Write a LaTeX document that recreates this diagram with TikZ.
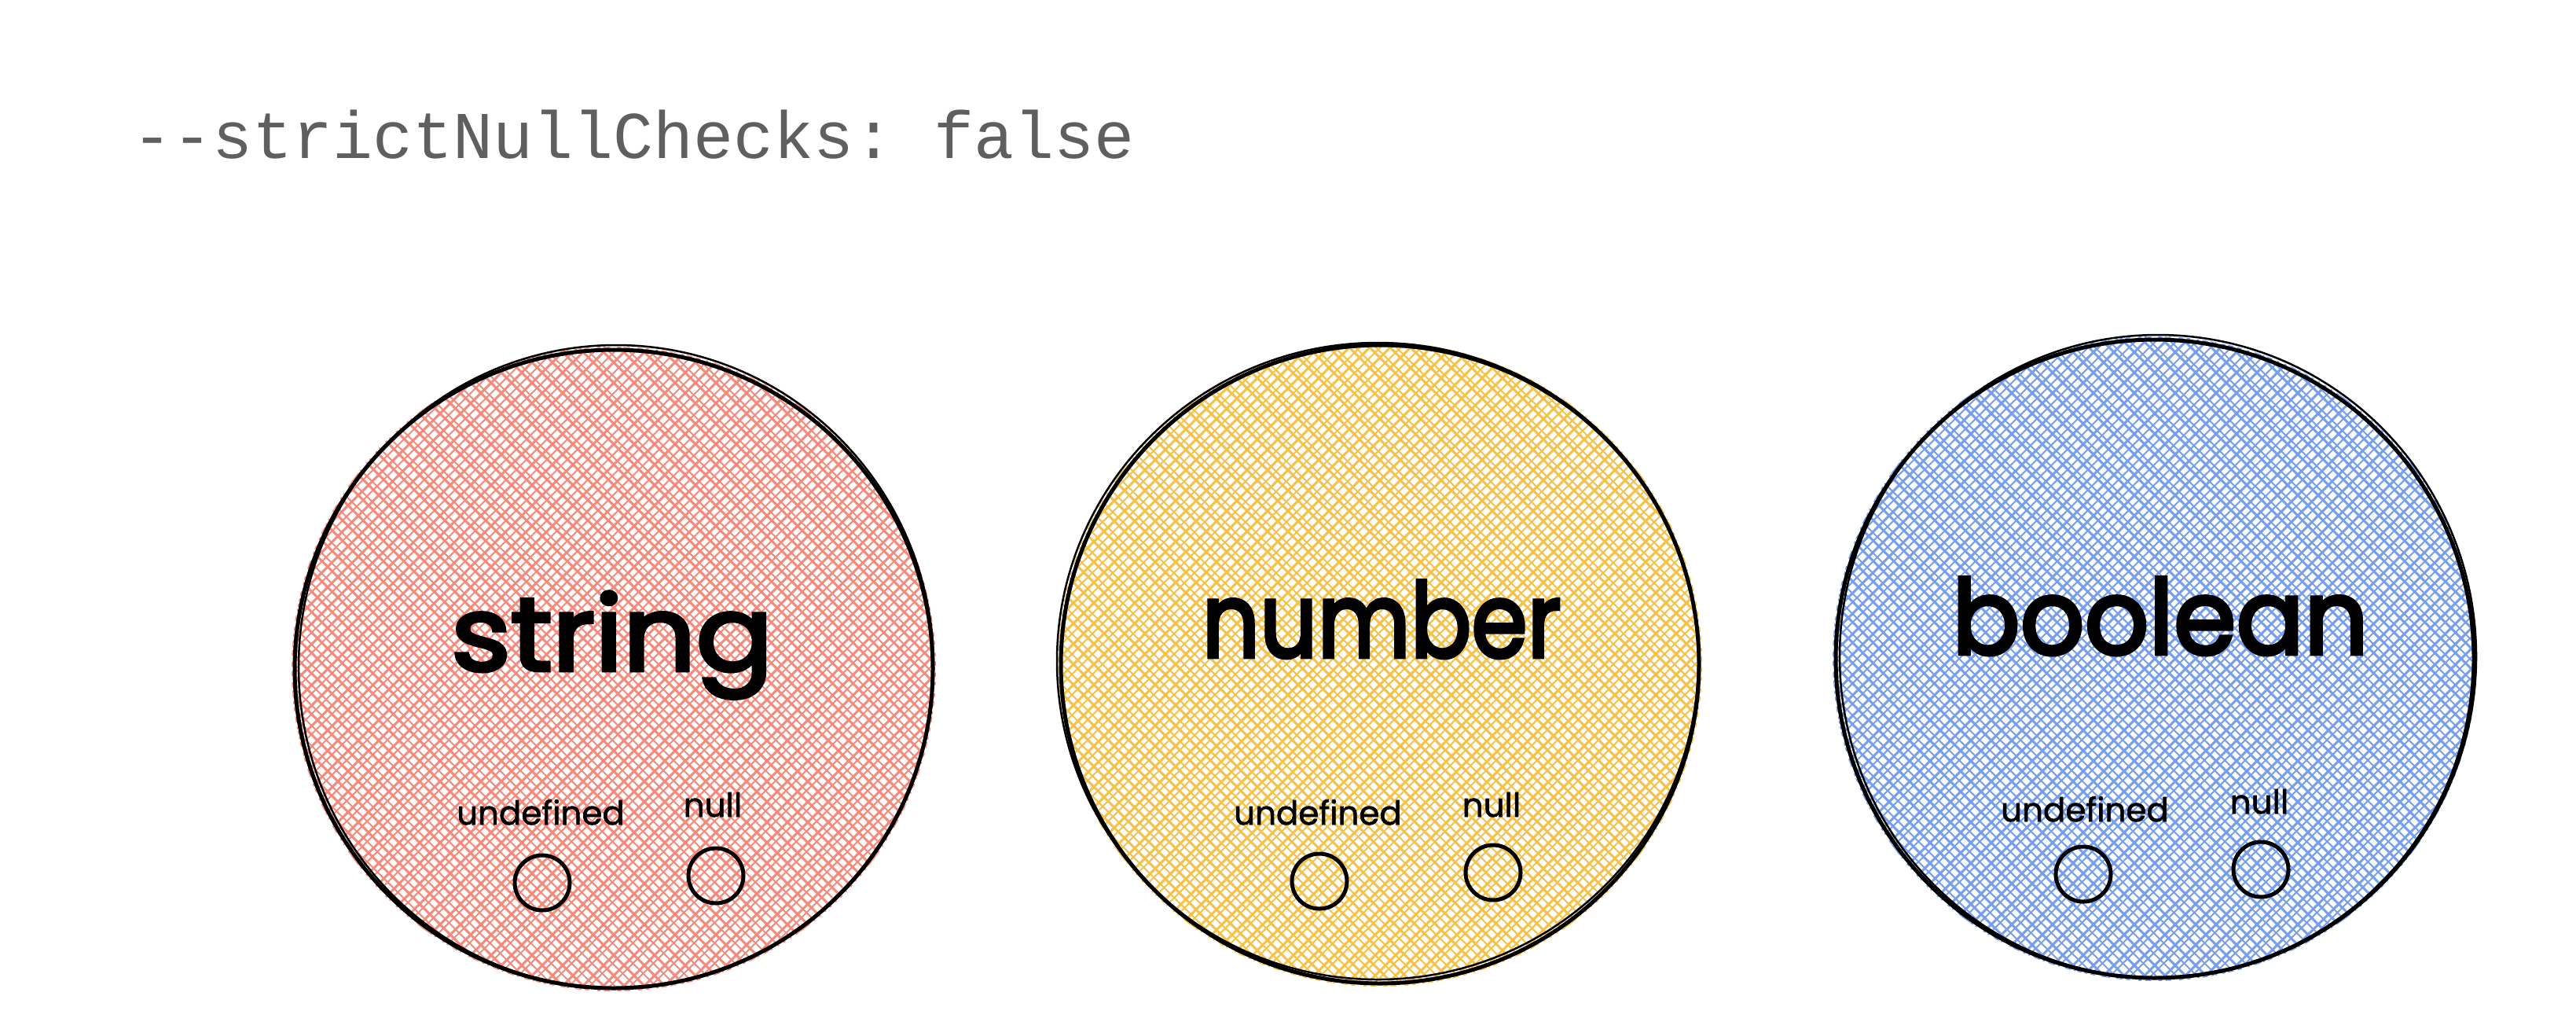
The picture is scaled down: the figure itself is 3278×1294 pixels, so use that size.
\documentclass[tikz,border=0pt]{standalone}
\usepackage{fontspec}
\setmainfont{Poppins}
\setmonofont{Liberation Mono}
\newfontfamily\handfont[FakeBold=3.5]{Poppins}
\newfontfamily\handsmall[FakeBold=1.5]{Poppins}
\definecolor{hred}{RGB}{245,138,124}
\definecolor{hyel}{RGB}{245,193,72}
\definecolor{hblu}{RGB}{118,158,236}
\definecolor{titlegray}{RGB}{95,95,95}
\tikzset{
  biglabel/.style={font=\handfont\fontsize{132}{160}\selectfont, text=black, inner sep=0pt, anchor=base},
  smalllabel/.style={font=\handsmall\fontsize{42}{50}\selectfont, text=black, inner sep=0pt, anchor=base},
  dot/.style={circle, draw=black, line width=5pt, minimum size=70pt, inner sep=0pt},
  rim/.style={draw=black, line width=5pt},
  rimtwo/.style={draw=black, line width=2.5pt},
  hatchline/.style={line width=3pt},
  hatchthin/.style={line width=2pt},
}
\newcommand\HatchDisk[4]{%
  \begin{scope}
    \clip (#1,#2) circle (#3+4);
    \foreach \k in {-30,...,30}{
      \draw[#4, hatchline] (#1+\k*26-520,#2-520) -- ++(1040,1040);
      \draw[#4, hatchthin] (#1+\k*26+7-520,#2-520) -- ++(1048,1040);
      \draw[#4, hatchline] (#1+\k*26-520,#2+520) -- ++(1040,-1040);
      \draw[#4, hatchthin] (#1+\k*26+8-520,#2+520) -- ++(1046,-1040);
    }
  \end{scope}}
\begin{document}
\begin{tikzpicture}[x=1pt,y=-1pt]
  \useasboundingbox[fill=white] (0,0) rectangle (3278,1294);

  \node[font=\ttfamily\fontsize{85}{100}\selectfont, text=titlegray, anchor=base west, inner sep=0pt] (title) at (168,201) {-{}-strictNullChecks: false};

  % centers
  \coordinate (cs) at (781,851);
  \coordinate (cn) at (1756,845);
  \coordinate (cb) at (2742,838);

  \HatchDisk{781}{851}{406}{hred}
  \HatchDisk{1756}{845}{406}{hyel}
  \HatchDisk{2742}{838}{406}{hblu}

  \draw[rim] (cs) circle (406);
  \draw[rimtwo] ([shift={(3,-3)}]cs) ellipse (404 and 409);
  \draw[rim] (cn) circle (406);
  \draw[rimtwo] ([shift={(-3,-4)}]cn) ellipse (408 and 405);
  \draw[rim] (cb) circle (406);
  \draw[rimtwo] ([shift={(4,-3)}]cb) ellipse (405 and 409);

  % string
  \node[biglabel, xscale=1.1] (tstring) at (779,853) {string};
  \node[smalllabel] (us) at (688,1049) {undefined};
  \node[smalllabel] (ns) at (907,1039) {null};
  \node[dot] (dus) at (690,1123) {};
  \node[dot] (dns) at (911,1114) {};

  % number
  \node[biglabel, xscale=0.87] (tnumber) at (1758,836) {number};
  \node[smalllabel] (un) at (1677,1049) {undefined};
  \node[smalllabel] (nn) at (1898,1039) {null};
  \node[dot] (dun) at (1679,1121) {};
  \node[dot] (dnn) at (1900,1110) {};

  % boolean
  \node[biglabel, xscale=0.97] (tboolean) at (2749,832) {boolean};
  \node[smalllabel] (ub) at (2653,1045) {undefined};
  \node[smalllabel] (nb) at (2875,1035) {null};
  \node[dot] (dub) at (2651,1112) {};
  \node[dot] (dnb) at (2877,1106) {};
\end{tikzpicture}
\end{document}
